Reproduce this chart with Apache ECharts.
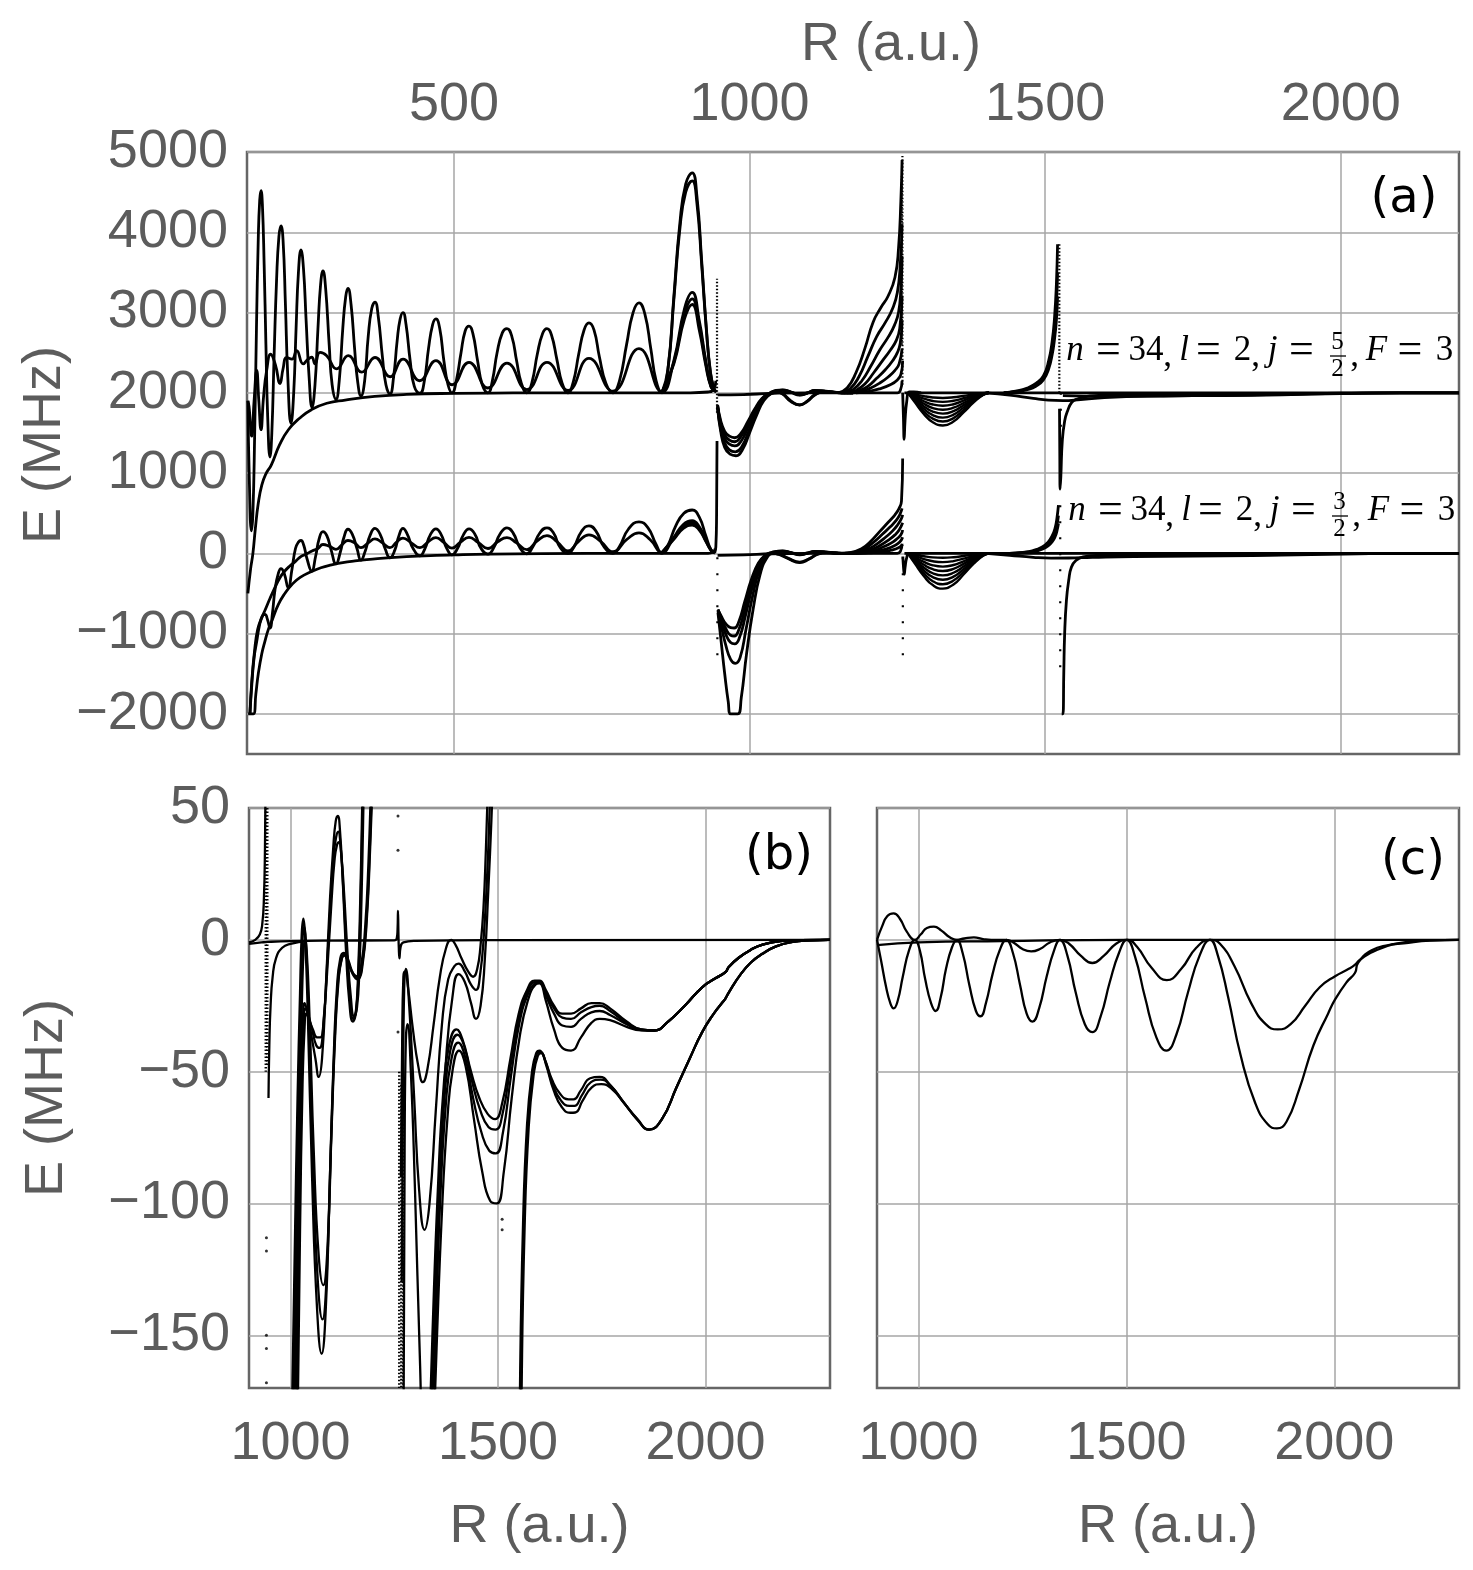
<!DOCTYPE html>
<html>
<head>
<meta charset="utf-8">
<script src="https://cdn.jsdelivr.net/npm/echarts@6/dist/echarts.min.js"></script>
<style>html,body{margin:0;padding:0;background:#fff}#c{width:1473px;height:1570px}</style>
</head>
<body>
<div id="c"></div>
<script>
// ---------- tick values ----------
const xTicksTop = [500, 1000, 1500, 2000];
const yTicksA = [-2000, -1000, 0, 1000, 2000, 3000, 4000, 5000];
const xTicksBC = [1000, 1500, 2000];
const yTicksBC = [-150, -100, -50, 0, 50];

// ---------- panel (a): upper group (j=5/2) ----------
const a_up_big = [[151.5,1900],[154,900],[157.5,280],[160,500],[163,1500],[166,2800],[169,3900],[171.5,4400],[173.7,4520],[176,4350],[179,3600],[182,2600],[185,1700],[188.9,1200],[192,1500],[196,2500],[200,3400],[204,3950],[207.5,4080],[211,3900],[215,3100],[219,2200],[224.4,1620],[229,2000],[233,2800],[237,3500],[241.3,3780],[245.5,3550],[250,2900],[255,2200],[260,1820],[265,2100],[270,2800],[274.5,3350],[278.5,3520],[283,3300],[289,2600],[294,2100],[300.5,1920],[306,2150],[312,2800],[317,3200],[320.8,3300],[326,3100],[332,2550],[337,2150],[342.8,1960],[349,2150],[355,2700],[361,3050],[366.5,3130],[372,2950],[379,2450],[385,2100],[391.8,1985],[398,2200],[404,2650],[409,2920],[413.8,3000],[419,2850],[426,2400],[433,2080],[442.6,1995],[450,2150],[457,2550],[464,2850],[469.6,2920],[476,2800],[483,2400],[490,2100],[496.7,2000],[504,2150],[512,2500],[519,2770],[525.5,2830],[532,2740],[540,2400],[548,2100],[557.6,2000],[565,2150],[573,2500],[582,2750],[589.7,2800],[598,2700],[606,2400],[614,2120],[623.5,2000],[632,2130],[641,2480],[650,2740],[657.4,2800],[665,2720],[674,2420],[683,2120],[692.9,2000],[702,2140],[711,2480],[720,2780],[728.4,2870],[737,2780],[746,2450],[757,2120],[769,2000],[780,2150],[792,2600],[803,3000],[813,3120],[823,2980],[833,2550],[842,2150],[851.8,2000],[862,2300],[872,3200],[882,4100],[892,4600],[903,4740],[911,4450],[919,3650],[927,2800],[934,2250],[940,2050],[944,2010]];
const a_up_big2 = [[851.8,2000],[862,2290],[872,3160],[882,4030],[892,4500],[903,4640],[911,4360],[919,3600],[927,2780],[934,2240],[940,2050],[944,2010]];
const a_up_med = [[151.5,1900],[153.4,1830],[158,1460],[162,1900],[166.4,2280],[170,1900],[173.7,1540],[178,1950],[183.3,2280],[190,2480],[198,2350],[205.8,2115],[211,2300],[217,2440],[226,2420],[234,2525],[245,2360],[252,2410],[259.4,2443],[265,2361],[273.5,2504],[284.8,2463],[301.7,2299],[321.3,2463],[344,2258],[366.5,2440],[392,2200],[414,2420],[442,2150],[469.6,2400],[497,2100],[525.5,2380],[557.6,2060],[589.7,2370],[623.5,2040],[657.4,2380],[693,2030],[728.4,2430],[769,2020],[813,2550],[852,2010],[872,2400],[890,3050],[903,3250],[915,2900],[926,2400],[935,2080],[942,2020]];
const a_up_med2 = [[852,2010],[872,2380],[890,2980],[903,3170],[915,2840],[926,2370],[935,2075],[942,2020]];
const a_up_med3 = [[852,2010],[872,2360],[890,2920],[903,3100],[915,2780],[926,2340],[935,2070],[942,2020]];
const a_up_rise = [[151.5,-500],[156,-200],[160,0],[164,300],[169,620],[175,850],[182,990],[191,1100],[205,1350],[220,1540],[240,1690],[259,1790],[285,1870],[316,1910],[366,1955],[420,1980],[500,1993],[600,1998],[700,2000],[900,2000],[930,2010],[939,2040],[943,2150]];
const a_up_d1 = [[946,1850],[951,1660],[958,1520],[966,1460],[975,1440],[985,1490],[997,1640],[1009,1800],[1021,1930],[1034,1995],[1045,2030],[1056,2035],[1070,2010],[1085,1980],[1098,2000],[1110,2030],[1125,2025],[1140,2010],[1157,2000],[1175,2000]];
const a_up_d2 = [[946,1840],[951,1630],[958,1480],[966,1410],[975,1390],[985,1450],[997,1610],[1009,1780],[1021,1920],[1034,1993],[1045,2028],[1056,2032],[1070,2008],[1085,1975],[1098,1998],[1110,2028],[1125,2022],[1140,2008],[1157,2000],[1175,2000]];
const a_up_d3 = [[946,1830],[951,1600],[958,1430],[966,1360],[975,1338],[986,1400],[998,1580],[1010,1770],[1022,1915],[1035,1992],[1046,2025],[1056,2030],[1070,2005],[1085,1970],[1098,1995],[1110,2025],[1125,2020],[1140,2006],[1157,2000],[1175,2000]];
const a_up_d4 = [[946,1820],[951,1560],[958,1370],[966,1290],[976,1265],[987,1330],[999,1530],[1011,1740],[1023,1905],[1036,1990],[1046,2010],[1056,1990],[1070,1900],[1085,1850],[1098,1900],[1110,1975],[1125,2015],[1140,2010],[1157,2000],[1175,2000]];
const a_up_d5 = [[946,1810],[951,1530],[958,1320],[967,1235],[977,1216],[988,1290],[1000,1500],[1012,1720],[1024,1900],[1037,1990],[1047,2005],[1056,1985],[1070,1890],[1085,1848],[1098,1895],[1110,1970],[1125,2012],[1140,2008],[1157,2000],[1175,2000]];
const a_up_flat2 = [[946,1975],[990,1978],[1034,1992],[1100,2000],[1250,2000],[1255,2030],[1258,2150]];
const a_up_f1 = [[1150,2000],[1165,2060],[1180,2250],[1195,2550],[1209,2880],[1222,3060],[1234,3200],[1246,3440],[1252,3800],[1256,4400],[1258,4900]];
const a_up_f2 = [[1155,2000],[1170,2050],[1185,2200],[1200,2450],[1215,2700],[1230,2880],[1242,3050],[1250,3250],[1255,3600],[1258,4100]];
const a_up_f3 = [[1160,2000],[1175,2040],[1190,2150],[1205,2330],[1220,2530],[1235,2700],[1245,2840],[1252,3000],[1256,3300],[1258,3700]];
const a_up_f4 = [[1165,2000],[1180,2030],[1195,2110],[1210,2250],[1225,2400],[1238,2530],[1248,2650],[1254,2800],[1258,3200]];
const a_up_f5 = [[1170,2000],[1185,2025],[1200,2080],[1215,2180],[1230,2290],[1242,2400],[1250,2500],[1255,2620],[1258,2900]];
const a_up_f6 = [[1175,2000],[1190,2020],[1205,2060],[1220,2120],[1235,2200],[1246,2280],[1253,2360],[1258,2550]];
const a_up_f7 = [[1180,2000],[1200,2015],[1220,2050],[1238,2100],[1250,2160],[1256,2230],[1259,2400]];
const a_up_v = [[1259,2000],[1260.3,1700],[1261.5,1420],[1263,1650],[1266,1900],[1270,2010],[1278,2010],[1290,2000]];
const gR = [1268,1280,1295,1310,1327,1345,1362,1380,1395,1405];
const a_up_g1 = [2000,1981,1958,1942,1936,1944,1962,1982,1996,2000];
const a_up_g2 = [2000,1966,1927,1898,1887,1901,1932,1968,1992,2000];
const a_up_g3 = [2000,1951,1895,1854,1838,1857,1903,1955,1989,2000];
const a_up_g4 = [2000,1937,1863,1810,1789,1814,1873,1941,1985,2000];
const a_up_g5 = [2000,1922,1831,1766,1740,1771,1844,1927,1982,2000];
const a_up_g6 = [2000,1907,1799,1722,1691,1728,1815,1913,1978,2000];
const a_up_g7 = [2000,1893,1767,1678,1642,1685,1785,1900,1975,2000];
const a_up_g8 = [2000,1878,1735,1634,1593,1642,1756,1886,1972,2000];
const a_up_flat3 = [[1262,2000],[1700,2000],[2200,2000]];
const a_up_h1 = [[1430,2000],[1450,2020],[1470,2060],[1485,2120],[1497,2210],[1506,2400],[1512,2650],[1516,2950],[1519,3350],[1521,3850]];
const a_up_h2 = [[1430,2000],[1450,2015],[1470,2050],[1485,2100],[1497,2180],[1506,2350],[1512,2550],[1516,2800],[1519,3100],[1521,3500]];
const a_up_h3 = [[1430,2000],[1450,2010],[1470,2040],[1485,2085],[1497,2160],[1506,2300],[1512,2480],[1516,2680],[1519,2900],[1521,3200]];
const a_up_below = [[1400,2000],[1440,1972],[1480,1930],[1505,1908],[1530,1902],[1560,1915],[1600,1940],[1650,1955],[1700,1962],[1800,1966],[1900,1975],[2000,1990],[2100,1998],[2200,2000]];
const a_up_below2 = [[1530,1965],[1600,1955],[1700,1960],[1800,1970],[1900,1980],[2000,1992],[2100,2000],[2200,2000]];
const a_up_rec = [[1524.3,1800],[1524.8,1200],[1525.3,800],[1526.5,950],[1529,1400],[1533,1650],[1537.7,1770],[1545,1880],[1553,1920],[1575.7,1960],[1620,1975],[1700,1975],[1800,1972],[1900,1983],[2000,1995],[2100,2000],[2200,2000]];

// ---------- panel (a): lower group (j=3/2) ----------
const a_lo_rise = [[152,-2000],[160.7,-2000],[165,-1750],[169,-1505],[175,-1250],[180.4,-1093],[186,-950],[191.8,-845],[202.9,-639],[214,-500],[225.6,-392],[240,-300],[259.4,-227],[275,-180],[293.2,-144],[312,-115],[332.7,-95],[366.5,-70],[400,-50],[450,-32],[500,-20],[560,-10],[650,-4],[800,0],[930,0],[938,15],[942,60]];
const a_lo_big = [[155,-2000],[158,-1650],[162,-1300],[166.4,-1100],[171,-900],[176,-780],[180.4,-760],[184.5,-820],[189,-930],[193,-750],[197.4,-450],[203,-250],[207.5,-190],[213,-250],[219.8,-430],[226,-200],[232,60],[237,140],[241.3,160],[246,100],[252,-80],[259.4,-220],[266,-40],[272,180],[278.5,270],[285,220],[292,50],[300.5,-130],[308,20],[314,200],[320.8,300],[328,240],[336,60],[342.8,-85],[350,30],[358,220],[366.5,310],[375,240],[384,50],[391.8,-55],[400,40],[407,220],[413.8,310],[421,240],[431,60],[442.6,-30],[451,60],[460,230],[469.6,305],[478,240],[488,60],[496.7,-18],[506,60],[516,230],[525.5,305],[535,245],[546,60],[557.6,-10],[567,65],[578,240],[589.7,318],[600,255],[612,65],[623.5,-5],[633,75],[645,250],[657.4,318],[668,260],[680,70],[692.9,0],[703,80],[716,275],[728.4,343],[740,280],[754,80],[769,0],[780,85],[795,300],[813,392],[828,320],[842,110],[851.8,0],[862,100],[875,340],[889,500],[903,540],[915,450],[926,220],[935,40],[941,5]];
const a_lo_med = [[155,-2000],[158,-1600],[163,-1200],[168,-950],[174,-820],[181,-700],[189,-560],[197,-430],[206,-300],[214,-220],[222,-160],[232,-100],[241,-40],[250,-10],[260,30],[270,60],[278.5,110],[289,90],[300.5,50],[311,110],[320.8,160],[332,130],[342.8,70],[355,130],[366.5,180],[379,130],[391.8,70],[403,140],[413.8,190],[428,130],[442.6,70],[456,140],[469.6,195],[483,135],[496.7,65],[511,140],[525.5,200],[541,135],[557.6,60],[574,145],[589.7,196],[606,130],[623.5,45],[640,150],[657.4,220],[675,140],[692.9,30],[711,150],[728.4,230],[748,150],[769,20],[792,170],[813,255],[832,170],[851.8,10],[872,200],[888,360],[903,407],[915,330],[926,170],[935,40],[941,5]];
const a_lo_med2 = [[851.8,10],[872,190],[888,335],[903,382],[915,310],[926,160],[935,38],[941,5]];
const a_lo_med3 = [[851.8,10],[872,175],[888,310],[903,353],[915,290],[926,150],[935,35],[941,5]];
const a_lo_spike = [[941,5],[943,80],[944.3,500],[945,1400]];
const a_lo_d1 = [[946.6,-700],[952,-780],[960,-880],[968,-925],[974,-930],[982,-850],[992,-600],[1003,-330],[1015,-120],[1027,-20],[1037,10],[1056,30],[1070,10],[1085,-10],[1098,5],[1110,25],[1125,20],[1140,8],[1157,0],[1175,0]];
const a_lo_d2 = [[946.6,-700],[952,-800],[960,-940],[968,-1020],[974,-1030],[982,-950],[992,-700],[1003,-390],[1015,-140],[1027,-25],[1037,8],[1056,28],[1070,8],[1085,-15],[1098,3],[1110,22],[1125,18],[1140,7],[1157,0],[1175,0]];
const a_lo_d3 = [[946.6,-710],[952,-830],[960,-1010],[968,-1110],[975,-1127],[983,-1050],[993,-780],[1004,-440],[1016,-160],[1028,-30],[1038,5],[1056,25],[1070,5],[1085,-20],[1098,0],[1110,20],[1125,16],[1140,6],[1157,0],[1175,0]];
const a_lo_d4 = [[946.6,-720],[952,-900],[960,-1150],[968,-1320],[976,-1372],[984,-1300],[994,-950],[1005,-540],[1017,-200],[1029,-40],[1039,0],[1050,-10],[1065,-60],[1085,-110],[1100,-70],[1115,-10],[1130,12],[1145,5],[1160,0],[1175,0]];
const a_lo_d5 = [[946.6,-740],[952,-1100],[958,-1500],[964,-1850],[968,-2000],[980,-2000],[986,-1800],[995,-1250],[1006,-700],[1018,-260],[1030,-50],[1040,0],[1050,-15],[1065,-65],[1085,-115],[1100,-75],[1115,-12],[1130,10],[1145,4],[1160,0],[1175,0]];
const a_lo_flat2 = [[946,-25],[990,-20],[1037,-5],[1100,0],[1250,0],[1255,20],[1258,120]];
const a_lo_f1 = [[1150,0],[1170,10],[1190,60],[1205,150],[1220,270],[1235,390],[1246,480],[1253,560],[1257,650],[1259,1180]];
const a_lo_f2 = [[1155,0],[1175,10],[1195,60],[1210,140],[1225,240],[1238,330],[1248,410],[1254,480],[1258,560]];
const a_lo_f3 = [[1160,0],[1180,10],[1200,50],[1215,115],[1230,200],[1242,280],[1250,350],[1256,420],[1259,480]];
const a_lo_f4 = [[1165,0],[1185,8],[1205,40],[1220,95],[1235,165],[1246,230],[1253,290],[1259,380]];
const a_lo_f5 = [[1170,0],[1190,8],[1210,32],[1225,75],[1240,130],[1250,185],[1256,230],[1259,290]];
const a_lo_f6 = [[1175,0],[1195,6],[1215,25],[1232,55],[1245,95],[1254,140],[1259,200]];
const a_lo_f7 = [[1180,0],[1200,5],[1222,18],[1240,40],[1252,70],[1259,110]];
const a_lo_v = [[1259.3,-40],[1260.5,-180],[1261.7,-260],[1263,-180],[1266,-50],[1270,0],[1290,0]];
const a_lo_g1 = [0,-17,-36,-50,-55,-48,-33,-15,-4,0];
const a_lo_g2 = [0,-33,-72,-99,-110,-97,-66,-31,-8,0];
const a_lo_g3 = [0,-50,-107,-149,-165,-145,-99,-46,-12,0];
const a_lo_g4 = [0,-66,-143,-198,-220,-194,-132,-62,-15,0];
const a_lo_g5 = [0,-83,-179,-248,-275,-242,-165,-77,-19,0];
const a_lo_g6 = [0,-99,-215,-297,-330,-290,-198,-92,-23,0];
const a_lo_g7 = [0,-116,-250,-347,-385,-339,-231,-108,-27,0];
const a_lo_g8 = [0,-132,-286,-396,-440,-387,-264,-123,-31,0];
const a_lo_flat3 = [[1262,0],[1700,0],[2200,0]];
const a_lo_h1 = [[1440,0],[1460,10],[1480,35],[1495,80],[1505,140],[1512,220],[1517,320],[1520,440],[1522.5,600]];
const a_lo_h2 = [[1440,0],[1460,8],[1480,28],[1495,65],[1505,115],[1512,180],[1517,260],[1520,350],[1522.5,470]];
const a_lo_h3 = [[1440,0],[1460,6],[1480,22],[1495,52],[1505,92],[1512,145],[1517,210],[1520,280],[1522.5,370]];
const a_lo_below = [[1400,0],[1440,-25],[1480,-50],[1510,-60],[1540,-58],[1580,-50],[1650,-40],[1750,-35],[1850,-28],[1950,-15],[2050,-4],[2200,0]];
const a_lo_rec = [[1528,-2000],[1530,-2000],[1531.5,-1500],[1533,-1000],[1536,-585],[1540,-330],[1544.5,-170],[1552,-90],[1564,-45],[1590,-25],[1650,-20],[1750,-25],[1850,-20],[1950,-10],[2050,-3],[2200,0]];
// resonance dotted traces in (a)
const a_dot_dense = [
  [[945,1750],[945,3420]],
  [[1258.6,2100],[1258.6,4950]],
  [[1257.5,2600],[1257.5,4700]],
  [[1524,2000],[1524,3850]]
];
const a_dot_sparse = [
  [[945.6,-50],[945.6,-1300]],
  [[1259.3,-50],[1259.3,-1300]],
  [[1526.5,2000],[1526.5,900]],
  [[1525.5,600],[1525.5,-1450]]
];

// ---------- panel (b) ----------
const b_zero = [[900,-1.5],[930,-1],[945,-0.8],[1000,-0.5],[1100,-0.3],[1250,-0.2],[1256,0.5],[1258,4],[1259,11],[1260,3],[1261,-3],[1262.5,-7],[1265,-3],[1272,-1],[1300,-0.4],[1500,-0.1],[2300,0]];
const b_spk = [[900,-1],[915,0],[926,2],[932,6],[936,16],[938.5,35],[940,60]];
const b_rec = [[947,-60],[949,-40],[952,-25],[957,-14],[965,-7],[980,-3],[1000,-1.5],[1040,-0.5]];
const b_f1a = [[1003,-185],[1010,-120],[1017,-60],[1023,-20],[1027,2],[1031,8],[1035,2],[1042,-30],[1052,-90],[1064,-140],[1075,-157],[1085,-140],[1095,-90],[1104,-45],[1112,-18],[1120,-7],[1128,-5],[1136,-7],[1148,-12],[1160,-14],[1170,-10],[1180,5],[1188,30],[1194,60]];
const b_f1b = [[1006,-185],[1012,-120],[1019,-60],[1025,-20],[1029,0],[1033,5],[1037,0],[1044,-30],[1054,-85],[1066,-130],[1077,-144],[1087,-128],[1097,-80],[1106,-40],[1114,-17],[1122,-8],[1130,-6],[1138,-8],[1150,-13],[1162,-15],[1172,-10],[1182,5],[1190,30],[1196,60]];
const b_f1c = [[1009,-185],[1015,-120],[1022,-60],[1028,-20],[1032,-3],[1035,0],[1039,-4],[1046,-30],[1056,-80],[1068,-120],[1079,-131],[1089,-117],[1099,-72],[1108,-35],[1116,-15],[1124,-7],[1132,-5],[1140,-8],[1152,-13],[1164,-14],[1174,-9],[1184,8],[1192,35],[1198,60]];
const b_f2a = [[1013,-185],[1019,-110],[1025,-55],[1030,-30],[1034,-24],[1040,-27],[1050,-36],[1060,-45],[1068,-52],[1076,-45],[1086,-15],[1095,15],[1103,35],[1109,45],[1114,47],[1119,42],[1126,22],[1134,-5],[1142,-24],[1150,-31],[1157,-28],[1163,-12],[1168,15],[1172,45],[1175,70]];
const b_f2b = [[1015,-185],[1021,-110],[1027,-55],[1032,-32],[1036,-26],[1042,-28],[1052,-34],[1062,-40],[1070,-41],[1078,-35],[1088,-10],[1097,15],[1104,32],[1110,39],[1115,41],[1120,37],[1127,20],[1135,-4],[1143,-22],[1151,-30],[1158,-27],[1164,-12],[1169,15],[1173,45],[1176,70]];
const b_f2c = [[1017,-185],[1023,-110],[1029,-55],[1034,-33],[1038,-28],[1044,-30],[1054,-34],[1064,-37],[1072,-37],[1080,-30],[1090,-8],[1099,15],[1106,30],[1112,36],[1117,37],[1122,33],[1129,18],[1137,-4],[1145,-21],[1153,-29],[1160,-26],[1166,-11],[1171,15],[1175,45],[1178,70]];
const b_g1 = [[1266,-90],[1269,-40],[1272,-14],[1276,-12],[1283,-18],[1295,-34],[1308,-48],[1319,-54],[1330,-49],[1345,-32],[1360,-14],[1375,-3],[1387,0],[1398,-2],[1412,-7],[1428,-12],[1440,-14],[1450,-11],[1458,-2],[1465,12],[1471,35],[1476,60]];
const b_g2 = [[1268,-130],[1271,-60],[1274,-18],[1278,-11],[1286,-25],[1298,-60],[1310,-95],[1323,-110],[1335,-100],[1350,-65],[1365,-32],[1380,-15],[1395,-10],[1405,-9],[1420,-12],[1435,-17],[1447,-19],[1457,-13],[1466,2],[1474,25],[1480,50],[1484,70]];
const b_g3 = [[1272,-200],[1275,-80],[1278,-38],[1282,-32],[1290,-50],[1300,-95],[1312,-160],[1325,-215],[1338,-210],[1350,-150],[1362,-85],[1375,-45],[1390,-22],[1405,-13],[1420,-16],[1435,-24],[1447,-30],[1458,-25],[1468,-8],[1477,20],[1484,45],[1490,70]];
const b_h1 = [[1330,-210],[1342,-150],[1355,-95],[1368,-58],[1382,-40],[1400,-34],[1415,-38],[1435,-50],[1455,-60],[1475,-66],[1493,-68],[1510,-62],[1530,-45],[1550,-28],[1570,-19],[1588,-15.5],[1600,-15.5],[1615,-19],[1635,-25],[1655,-28],[1676,-28],[1700,-26],[1725,-24],[1745,-24],[1770,-26],[1810,-31],[1845,-34],[1876,-34.4],[1910,-31],[1950,-25],[1992,-18],[2025,-14.5],[2048,-12.3],[2056,-10.3],[2080,-6.8],[2110,-3.7],[2136,-1.9],[2180,-0.5],[2230,-0.1],[2300,0]];
const b_h2 = [[1333,-210],[1345,-150],[1358,-95],[1371,-60],[1385,-42],[1402,-36],[1418,-40],[1438,-54],[1458,-65],[1477,-71],[1494,-72],[1511,-66],[1530,-48],[1550,-30],[1570,-20],[1588,-16],[1600,-15.8],[1615,-20],[1635,-26],[1655,-29.5],[1676,-30],[1700,-27.5],[1725,-25.5],[1745,-25],[1770,-27],[1810,-31.5],[1845,-34],[1876,-34.4],[1910,-31],[1950,-25],[1992,-18],[2025,-14.5],[2048,-12.3],[2056,-10.3],[2080,-6.8],[2110,-3.7],[2136,-1.9],[2180,-0.5],[2230,-0.1],[2300,0]];
const b_h3 = [[1336,-210],[1348,-150],[1361,-98],[1374,-63],[1388,-45],[1404,-39],[1420,-44],[1440,-60],[1460,-73],[1479,-80],[1495,-81],[1512,-73],[1531,-52],[1551,-32],[1571,-21],[1589,-16.5],[1600,-16],[1615,-21],[1635,-28],[1655,-32.5],[1676,-33],[1700,-30],[1725,-27.5],[1745,-27],[1770,-28.5],[1810,-32],[1845,-34.2],[1876,-34.4],[1910,-31],[1950,-25],[1992,-18],[2025,-14.5],[2048,-12.3],[2056,-10.3],[2080,-6.8],[2110,-3.7],[2136,-1.9],[2180,-0.5],[2230,-0.1],[2300,0]];
const b_h4 = [[1340,-210],[1352,-155],[1365,-103],[1378,-68],[1391,-49],[1406,-42],[1422,-48],[1442,-68],[1462,-88],[1481,-99],[1497,-100],[1514,-88],[1533,-60],[1553,-36],[1572,-23],[1590,-17],[1600,-16.5],[1615,-23],[1635,-34],[1655,-41],[1676,-42],[1700,-37],[1725,-31.5],[1745,-30],[1770,-30.5],[1810,-33],[1845,-34.3],[1876,-34.4],[1910,-31],[1950,-25],[1992,-18],[2025,-14.5],[2048,-12.3],[2056,-10.3],[2080,-6.8],[2110,-3.7],[2136,-1.9],[2180,-0.5],[2230,-0.1],[2300,0]];
const b_k1 = [[1548,-260],[1553,-170],[1560,-110],[1570,-70],[1582,-50],[1592,-43],[1600,-42],[1612,-45],[1630,-53],[1650,-58.5],[1670,-60.5],[1682,-60.5],[1700,-57],[1722,-52.5],[1745,-52],[1770,-55],[1800,-61],[1835,-68],[1864,-72],[1895,-68],[1930,-56],[1962,-45],[1992,-35],[2020,-28],[2042,-23.5],[2048,-22.3],[2056,-20],[2085,-13],[2110,-8.5],[2136,-5.4],[2170,-2.5],[2210,-0.8],[2250,-0.2],[2300,0]];
const b_k2 = [[1550,-260],[1555,-170],[1562,-110],[1572,-70],[1584,-50],[1594,-43],[1602,-42.5],[1614,-46],[1632,-55],[1652,-61],[1672,-63],[1684,-63],[1702,-59],[1724,-54],[1747,-53],[1772,-55.5],[1802,-61.5],[1836,-68],[1864,-72],[1895,-68],[1930,-56],[1962,-45],[1992,-35],[2020,-28],[2042,-23.5],[2048,-22.3],[2056,-20],[2085,-13],[2110,-8.5],[2136,-5.4],[2170,-2.5],[2210,-0.8],[2250,-0.2],[2300,0]];
const b_k3 = [[1552,-260],[1557,-170],[1564,-110],[1574,-71],[1586,-51],[1596,-44],[1604,-43],[1616,-47.5],[1634,-57],[1654,-63.5],[1674,-65.6],[1686,-65.5],[1704,-61],[1726,-56],[1749,-54.7],[1774,-56.5],[1804,-62],[1837,-68.5],[1864,-72],[1895,-68],[1930,-56],[1962,-45],[1992,-35],[2020,-28],[2042,-23.5],[2048,-22.3],[2056,-20],[2085,-13],[2110,-8.5],[2136,-5.4],[2170,-2.5],[2210,-0.8],[2250,-0.2],[2300,0]];
const b_hatch = [
  [[940.5,50],[940.5,-50]],
  [[944,50],[944,-48]],
  [[1262,-50],[1262,-170]],
  [[1267,-55],[1267,-170]],
  [[1271,-70],[1271,-170]]
];
const b_dots = [[942,-113],[942,-118],[942,-150],[942,-155],[942,-168],[1259,47],[1259,34],[1259,-35],[1510,-106],[1510,-110]];

// ---------- panel (c) ----------
const c_zero = [[900,-2],[1000,-1],[1200,-0.5],[1500,0],[2300,0]];
const c_up = [[900,0],[912,5],[925,9],[940,10],[955,8],[972,3],[991,0],[1005,2],[1020,4.5],[1037,5],[1055,3.5],[1075,1],[1092,0],[1110,0.5],[1133,0.9],[1155,0.3],[1175,0],[1211,0],[1228,-1],[1250,-3.5],[1271,-4.4],[1292,-3.5],[1316,-1],[1340,0],[1362,-1.5],[1390,-6],[1418,-8.8],[1446,-6],[1475,-1.5],[1501,0],[1525,-2.5],[1560,-10.5],[1597,-15.3],[1632,-11],[1668,-3],[1701,0],[1725,-1.5],[1760,-10],[1800,-24],[1835,-32],[1864,-34],[1895,-32],[1930,-25],[1965,-18],[2002,-13.8],[2035,-11],[2050,-9.4],[2062,-7.5],[2100,-4],[2167,-1],[2230,-0.2],[2300,0]];
const c_dn = [[900,0],[910,-8],[922,-18],[932,-24],[940,-26],[950,-23],[962,-14],[977,-4],[991,0],[1003,-4],[1016,-15],[1030,-24],[1041,-27],[1053,-22],[1066,-11],[1080,-3],[1092,0],[1106,-5],[1122,-17],[1138,-27],[1149,-29],[1162,-24],[1178,-13],[1195,-4],[1211,0],[1227,-5],[1244,-17],[1260,-28],[1274,-31],[1290,-26],[1308,-14],[1326,-4],[1340,0],[1358,-6],[1378,-20],[1400,-32],[1418,-35],[1438,-29],[1460,-16],[1482,-5],[1501,0],[1520,-6],[1545,-22],[1572,-37],[1596,-42],[1620,-36],[1648,-20],[1676,-6],[1701,0],[1720,-6],[1745,-22],[1775,-44],[1810,-62],[1840,-70],[1862,-71.5],[1885,-69],[1915,-57],[1950,-40],[1985,-28],[2002,-22.6],[2030,-16],[2050,-12.5],[2057,-8.8],[2090,-4],[2130,-2],[2167,-1.3],[2230,-0.3],[2300,0]];

// ---------- build ----------
const zip = (xs, ys) => xs.map((x, i) => [x, ys[i]]);
const AX = '#5c5c5c';
const FONT = 'Liberation Sans';
function curve(data, gi, w) {
  return {type:'line', xAxisIndex:gi, yAxisIndex:gi, data, showSymbol:false, smooth:0.5,
          lineStyle:{color:'#000', width:w}, silent:true, z:3, clip:true};
}
function dotted(data, gi, w, dash) {
  return {type:'line', xAxisIndex:gi, yAxisIndex:gi, data, showSymbol:false, smooth:false,
          lineStyle:{color:'#000', width:w, type:dash}, silent:true, z:3, clip:true};
}
const series = [];
const A = [a_up_big,a_up_big2,a_up_med,a_up_med2,a_up_med3,a_up_rise,a_up_d1,a_up_d2,a_up_d3,a_up_d4,a_up_d5,a_up_flat2,
  a_up_f1,a_up_f2,a_up_f3,a_up_f4,a_up_f5,a_up_f6,a_up_f7,a_up_v,a_up_flat3,a_up_h1,a_up_h2,a_up_h3,a_up_below,a_up_below2,a_up_rec,
  a_lo_rise,a_lo_big,a_lo_med,a_lo_med2,a_lo_med3,a_lo_spike,a_lo_d1,a_lo_d2,a_lo_d3,a_lo_d4,a_lo_d5,a_lo_flat2,
  a_lo_f1,a_lo_f2,a_lo_f3,a_lo_f4,a_lo_f5,a_lo_f6,a_lo_f7,a_lo_v,a_lo_flat3,a_lo_h1,a_lo_h2,a_lo_h3,a_lo_below,a_lo_rec];
A.forEach(d => series.push(curve(d, 0, 2.8)));
[a_up_g1,a_up_g2,a_up_g3,a_up_g4,a_up_g5,a_up_g6,a_up_g7,a_up_g8,a_lo_g1,a_lo_g2,a_lo_g3,a_lo_g4,a_lo_g5,a_lo_g6,a_lo_g7,a_lo_g8]
  .forEach(g => series.push(curve(zip(gR, g), 0, 2.4)));
a_dot_dense.forEach(d => series.push(dotted(d, 0, 2.2, [1.5, 2])));
a_dot_sparse.forEach(d => series.push(dotted(d, 0, 2.2, [2, 14])));
[b_zero,b_spk,b_rec,b_f1a,b_f1b,b_f1c,b_f2a,b_f2b,b_f2c,b_g1,b_g2,b_g3,b_h1,b_h2,b_h3,b_h4,b_k1,b_k2,b_k3]
  .forEach(d => series.push(curve(d, 1, 2.3)));
b_hatch.forEach(d => series.push(dotted(d, 1, 2.5, [1.5, 2])));
series.push({type:'scatter', xAxisIndex:1, yAxisIndex:1, data:b_dots, symbolSize:3, itemStyle:{color:'#000'}, silent:true, z:3});
[c_zero,c_up,c_dn].forEach(d => series.push(curve(d, 2, 2.3)));

const minus = v => (v < 0 ? '\u2212' + Math.abs(v) : String(v));
const plain = v => String(v);
const labelStyle = {color:AX, fontSize:54, fontFamily:FONT};
const nameStyle = {color:AX, fontSize:54, fontFamily:FONT};
const split = {show:true, lineStyle:{color:'#a6a6a6', width:1.5}};

const xAxis = [
  {gridIndex:0, type:'value', position:'top', min:150, max:2200,
   axisLine:{show:false}, axisTick:{show:false, customValues:xTicksTop},
   axisLabel:Object.assign({customValues:xTicksTop, margin:20, formatter:plain}, labelStyle),
   splitLine:split, name:'R (a.u.)', nameLocation:'middle', nameGap:80, nameMoveOverlap:false,
   nameTextStyle:Object.assign({padding:[0,0,0,76]}, nameStyle)},
  {gridIndex:1, type:'value', min:900, max:2300,
   axisLine:{show:false}, axisTick:{show:false, customValues:xTicksBC},
   axisLabel:Object.assign({customValues:xTicksBC, margin:29, formatter:plain}, labelStyle),
   splitLine:split, name:'R (a.u.)', nameLocation:'middle', nameGap:112, nameMoveOverlap:false, nameTextStyle:nameStyle},
  {gridIndex:2, type:'value', min:900, max:2300,
   axisLine:{show:false}, axisTick:{show:false, customValues:xTicksBC},
   axisLabel:Object.assign({customValues:xTicksBC, margin:29, formatter:plain}, labelStyle),
   splitLine:split, name:'R (a.u.)', nameLocation:'middle', nameGap:112, nameMoveOverlap:false, nameTextStyle:nameStyle}
];
const yAxis = [
  {gridIndex:0, type:'value', min:-2500, max:5000,
   axisLine:{show:false}, axisTick:{show:false, customValues:yTicksA},
   axisLabel:Object.assign({customValues:yTicksA, margin:19, formatter:minus}, labelStyle),
   splitLine:split, name:'E (MHz)', nameLocation:'middle', nameGap:175, nameMoveOverlap:false,
   nameTextStyle:Object.assign({padding:[0,0,0,16]}, nameStyle)},
  {gridIndex:1, type:'value', min:-170, max:50,
   axisLine:{show:false}, axisTick:{show:false, customValues:yTicksBC},
   axisLabel:Object.assign({customValues:yTicksBC, margin:19, formatter:minus}, labelStyle),
   splitLine:split, name:'E (MHz)', nameLocation:'middle', nameGap:175, nameMoveOverlap:false, nameTextStyle:nameStyle},
  {gridIndex:2, type:'value', min:-170, max:50,
   axisLine:{show:false}, axisTick:{show:false, customValues:yTicksBC},
   axisLabel:{show:false, customValues:yTicksBC},
   splitLine:split}
];
const gridStyle = {show:true, borderColor:'#666', borderWidth:2.5, backgroundColor:'transparent'};

// ---------- text annotations ----------
const graphic = [];
function panelTag(txt, x, y) {
  graphic.push({type:'text', x, y, z:10, silent:true,
    style:{text:txt, fill:'#000', font:'48px "DejaVu Sans"', textAlign:'center', textVerticalAlign:'middle'}});
}
panelTag('(a)', 1404, 200);
panelTag('(b)', 779, 857);
panelTag('(c)', 1413, 862);
function stateLabel(dx, yc, num) {
  const toks = [['n',1075,1],['=',1108.5,0],['34',1146,0],[',',1167.5,0],['l',1184,1],['=',1208.5,0],['2',1242.5,0],[',',1255.5,0],['j',1272.5,1],['=',1301.5,0],[',',1354.5,0],['F',1376.5,1],['=',1410,0],['3',1444.5,0]];
  toks.forEach(t => {
    const isEq = t[0] === '=';
    graphic.push({type:'text', x:t[1]+dx, y:yc + (t[0]===',' ? 6 : 0), z:10, silent:true,
      style:{text:t[0], fill:'#000', font:(t[2] ? 'italic ' : '') + (isEq ? '44px' : '35px') + ' "Liberation Serif"',
             textAlign:'center', textVerticalAlign:'middle'}});
  });
  graphic.push({type:'text', x:1337.5+dx, y:yc-9, z:10, silent:true,
    style:{text:num, fill:'#000', font:'25px "Liberation Serif"', textAlign:'center', textVerticalAlign:'middle'}});
  graphic.push({type:'line', z:10, silent:true, shape:{x1:1330+dx, y1:yc+5, x2:1346+dx, y2:yc+5}, style:{stroke:'#000', lineWidth:1.3}});
  graphic.push({type:'text', x:1337.5+dx, y:yc+18, z:10, silent:true,
    style:{text:'2', fill:'#000', font:'25px "Liberation Serif"', textAlign:'center', textVerticalAlign:'middle'}});
}
stateLabel(0, 351, '5');
stateLabel(2, 511, '3');

const chart = echarts.init(document.getElementById('c'), null, {renderer:'canvas'});
chart.setOption({
  animation:false,
  backgroundColor:'#fff',
  grid:[
    Object.assign({left:247, top:152, width:1212, height:602}, gridStyle),
    Object.assign({left:249, top:808, width:581, height:580}, gridStyle),
    Object.assign({left:877, top:808, width:582, height:580}, gridStyle)
  ],
  xAxis, yAxis, series, graphic
});
</script>
</body>
</html>
